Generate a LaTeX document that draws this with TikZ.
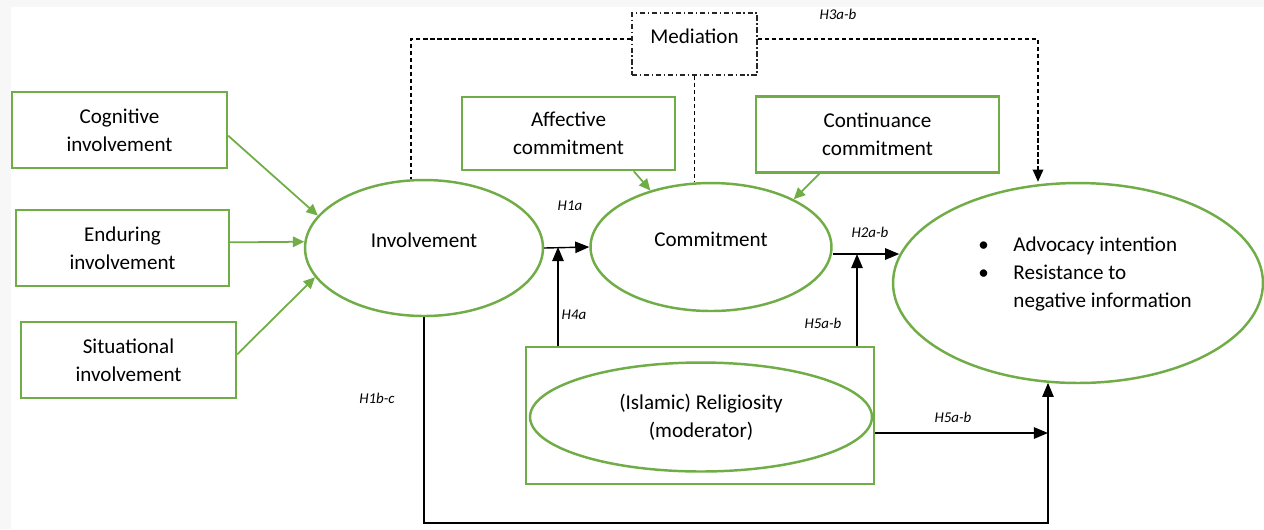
\documentclass[tikz,border=0pt]{standalone}
\usepackage{fontspec}
\setmainfont{Carlito}
\usepackage {tikz}
\usetikzlibrary {positioning}
\usetikzlibrary{shapes.geometric}
\usetikzlibrary{calc}
\usetikzlibrary{arrows.meta}
\definecolor{fgreen}{RGB}{112,173,71}
\definecolor{pagegray}{RGB}{247,247,247}
\tikzset{
    factor/.style = {rectangle,draw=fgreen,line width=1.4pt,align=center,inner sep=0pt},
    latent/.style = {ellipse,draw=fgreen,line width=1.4pt,align=center,inner sep=0pt},
    lifted/.style = {text depth=9pt},
    medbox/.style = {rectangle,draw=black!85,line width=0.8pt,dash pattern=on 3pt off 1.5pt on 0.8pt off 1.5pt},
    feed/.style = {draw=fgreen,line width=1pt,-{Triangle[length=6.5pt,width=6pt]}},
    hyp/.style = {draw=black,line width=0.8pt,-{Triangle[length=8pt,width=6.5pt]}},
    medline/.style = {draw=black,line width=1pt,dash pattern=on 2.5pt off 1.5pt},
    hlabel/.style = {font=\fontsize{8.5}{10}\selectfont\itshape,inner sep=0pt}}

\begin{document}
\begin{tikzpicture}[x=0.02cm,y=-0.02cm,font=\fontsize{12}{16}\selectfont]
        \fill[pagegray] (0,0) rectangle (1264,529);
        \fill[white] (11,7) rectangle (1264,529);
        \useasboundingbox (0,0) rectangle (1264,529);
        % involvement dimensions
        \path (119.5,130) node[factor,minimum width=4.3cm,minimum height=1.52cm] (cog) {Cognitive\\involvement}
        ++ (3,118) node[factor,minimum width=4.26cm,minimum height=1.52cm] (end) {Enduring\\involvement}
        ++ (6,112) node[factor,minimum width=4.3cm,minimum height=1.52cm] (sit) {Situational\\involvement};
        % constructs
        \node[latent,lifted,minimum width=4.76cm,minimum height=2.72cm] (inv) at (424,248) {Involvement};
        \node[latent,lifted,minimum width=4.82cm,minimum height=2.56cm] (com) at (711,247) {Commitment};
        \node[latent,minimum width=7.4cm,minimum height=4cm] (adv) at (1078,283) {};
        \node[anchor=west,inner sep=0pt] (outcome) at (978,274) {\begin{tabular}{@{}l@{\hspace{14pt}}l@{}}
            \textbullet & Advocacy intention\\
            \textbullet & Resistance to\\
             & negative information\end{tabular}};
        \node[factor,minimum width=4.26cm,minimum height=1.46cm] (aff) at (568.5,133.5) {Affective\\commitment};
        \node[factor,minimum width=4.86cm,minimum height=1.52cm] (cont) at (877.5,134.5) {Continuance\\commitment};
        \node[medbox,lifted,minimum width=2.5cm,minimum height=1.24cm] (med) at (694.5,44) {Mediation};
        \node[factor,minimum width=6.96cm,minimum height=2.74cm] (modbox) at (700,415.5) {};
        \node[latent,minimum width=6.84cm,minimum height=2.18cm] (rel) at (701,417) {(Islamic) Religiosity\\(moderator)};
        % green feeds
        \draw[feed] (cog.-3) -- (inv.163);
        \draw[feed] (end.3) -- (inv.177);
        \draw[feed] (sit.3) -- (inv.195);
        \draw[feed] (aff.-30) -- (com.137);
        \draw[feed] (cont.214) -- (com.30);
        % hypotheses
        \coordinate (h4a) at (558,247);
        \coordinate (h2ab) at (857,254);
        \coordinate (h5ab) at (1048,433);
        \coordinate (h1bc) at (1048,523);
        \draw[hyp] (inv.east) -- (com.west);
        \draw[hyp] (modbox.north -| h4a) -- (h4a);
        \draw[hyp] (h2ab -| com.east) -- (h2ab -| adv.171);
        \draw[hyp] (modbox.north -| h2ab) -- (h2ab);
        \draw[hyp] (h5ab -| modbox.east) -- (h5ab);
        \draw[hyp] (inv.south) |- (h1bc) -- (h1bc |- adv.253);
        % mediation
        \coordinate (mleft) at (411,39);
        \coordinate (mright) at (1038,39);
        \draw[medline] (med.west |- mleft) -- (mleft) -- (mleft |- inv.north);
        \draw[medline,-{Triangle[length=7pt,width=6pt]}] (med.east |- mright) -- (mright) -- (mright |- adv.north);
        \draw[medline] (med.south) -- (med.south |- com.north);
        % labels
        \node[hlabel] (lh3) at (838,14) {H3a-b};
        \node[hlabel] (lh1a) at (570,206) {H1a};
        \node[hlabel] (lh4a) at (574,315) {H4a};
        \node[hlabel] (lh2) at (870,232) {H2a-b};
        \node[hlabel] (lh5up) at (823,323) {H5a-b};
        \node[hlabel] (lh5low) at (953,417) {H5a-b};
        \node[hlabel] (lh1bc) at (377,398) {H1b-c};
\end{tikzpicture}
\end{document}
